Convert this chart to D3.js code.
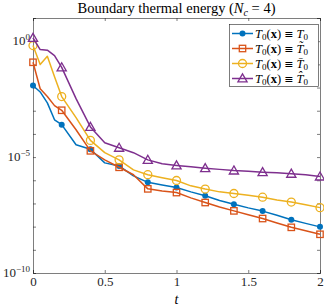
<!DOCTYPE html>
<html><head><meta charset="utf-8">
<script src="https://cdn.jsdelivr.net/npm/d3@7"></script>
<style>body{margin:0;background:#fff}svg{display:block}</style>
</head><body>
<svg id="c" width="324" height="307"></svg>
<script>
// time samples (markers every 0.2)
const tVals = [0,0.05,0.1,0.15,0.2,0.3,0.4,0.5,0.6,0.7,0.8,0.9,1.0,1.1,1.2,1.3,1.4,1.5,1.6,1.7,1.8,1.9,2.0];
// log10 of boundary thermal energy
const blueLog   = [-1.91,-2.19,-2.66,-3.39,-3.60,-4.47,-4.66,-5.25,-5.38,-5.81,-6.09,-6.20,-6.31,-6.50,-6.67,-6.87,-7.03,-7.19,-7.33,-7.51,-7.70,-7.86,-8.01];
const orangeLog = [-0.91,-2.05,-2.39,-2.78,-2.98,-3.82,-4.73,-5.12,-5.44,-5.76,-6.37,-6.46,-6.53,-6.76,-6.96,-7.15,-7.32,-7.49,-7.65,-7.84,-8.03,-8.18,-8.33];
const yellowLog = [-0.19,-1.01,-0.65,-1.53,-2.39,-3.30,-4.28,-4.81,-5.12,-5.55,-5.76,-5.89,-6.01,-6.24,-6.38,-6.50,-6.57,-6.65,-6.73,-6.85,-6.94,-7.06,-7.18];
const purpleLog = [0.14,-0.36,-0.39,-0.62,-1.13,-2.48,-3.70,-4.38,-4.60,-4.81,-5.12,-5.29,-5.36,-5.42,-5.48,-5.53,-5.58,-5.61,-5.65,-5.68,-5.72,-5.76,-5.84];
const xTicks = [0,0.5,1,1.5,2];
const xTickLabels = ["0","0.5","1","1.5","2"];
const yTicks = [1e-10,1e-9,1e-8,1e-7,1e-6,1e-5,1e-4,1e-3,1e-2,1e-1,1e0,1e1];
const yLabelExps = [0,-5,-10];
const colors = ["#0072BD","#D95319","#EDB120","#7E2F8E"];
const markers = ["dot","square","circle","triangle"];
const accents = ["","\u0303","\u0304","\u0302"];

const series = [blueLog, orangeLog, yellowLog, purpleLog];

const svg = d3.select("#c");
const L=33, R=320, T=18, B=273;
const x = d3.scaleLinear().domain([0,2]).range([L,R]);
const y = d3.scaleLog().domain([1e-10,1e1]).range([B,T]);
const font = "'Liberation Serif', 'DejaVu Serif', serif";
const axCol = "#262626";

// axes (bottom/left with labels, top/right ticks only)
const gx = svg.append("g").attr("transform",`translate(0,${B})`)
  .call(d3.axisBottom(x).tickValues(xTicks).tickSize(-3).tickPadding(4).tickFormat((d,i)=>xTickLabels[i]));
const gxt = svg.append("g").attr("transform",`translate(0,${T})`)
  .call(d3.axisTop(x).tickValues(xTicks).tickSize(-3).tickFormat(""));
const gy = svg.append("g").attr("transform",`translate(${L},0)`)
  .call(d3.axisLeft(y).tickValues(yTicks).tickSize(-3).tickFormat(""));
const gyr = svg.append("g").attr("transform",`translate(${R},0)`)
  .call(d3.axisRight(y).tickValues(yTicks).tickSize(-3).tickFormat(""));
[gx,gxt,gy,gyr].forEach(g=>{
  g.select(".domain").attr("stroke",axCol).attr("stroke-width",0.6);
  g.selectAll(".tick line").attr("stroke",axCol).attr("stroke-width",0.6);
});
gx.selectAll(".tick text").attr("font-family",font).attr("font-size",13).attr("fill","#262626");

// y labels 10^e
yLabelExps.forEach(e=>{
  const t = svg.append("text").attr("x",L-3).attr("y",y(Math.pow(10,e))+4)
    .attr("text-anchor","end").attr("font-family",font).attr("font-size",13).attr("fill","#262626");
  t.append("tspan").text("10");
  t.append("tspan").attr("dy",-5).attr("font-size",9).text(e===0?"0":"\u2212"+(-e));
});

// lines and markers
const line = d3.line().x(d=>x(d[0])).y(d=>y(d[1]));
function drawMarker(g, type, cx, cy, col){
  if(type==="dot") g.append("circle").attr("cx",cx).attr("cy",cy).attr("r",3).attr("fill",col);
  else if(type==="square") g.append("rect").attr("x",cx-3.2).attr("y",cy-3.2).attr("width",6.4).attr("height",6.4).attr("fill","none").attr("stroke",col).attr("stroke-width",1.3);
  else if(type==="circle") g.append("circle").attr("cx",cx).attr("cy",cy).attr("r",4).attr("fill","none").attr("stroke",col).attr("stroke-width",1.3);
  else { const s=4.6; g.append("path").attr("d",`M${cx},${cy-s}L${cx+s},${cy+s*0.75}L${cx-s},${cy+s*0.75}Z`).attr("fill","none").attr("stroke",col).attr("stroke-width",1.3); }
}
series.forEach((s,k)=>{
  const pts = tVals.map((t,i)=>[t, Math.pow(10,s[i])]);
  const g = svg.append("g");
  g.append("path").datum(pts).attr("d",line).attr("fill","none").attr("stroke",colors[k]).attr("stroke-width",1.5).attr("stroke-linejoin","round");
  pts.forEach(p=>{
    if(Math.abs(p[0]*5 - Math.round(p[0]*5))<1e-6) drawMarker(g, markers[k], x(p[0]), y(p[1]), colors[k]);
  });
});

// legend
const lg = svg.append("g");
lg.append("rect").attr("x",229.5).attr("y",24.5).attr("width",89).attr("height",62).attr("fill","#fff").attr("stroke","#262626").attr("stroke-width",0.6);
colors.forEach((c,k)=>{
  const yy = 33.5 + k*15;
  lg.append("line").attr("x1",232).attr("x2",253).attr("y1",yy).attr("y2",yy).attr("stroke",c).attr("stroke-width",1.5);
  drawMarker(lg, markers[k], 242.5, yy, c);
  const t = lg.append("text").attr("x",255).attr("y",yy+4).attr("font-family",font).attr("font-size",12.5).attr("fill","#000");
  t.append("tspan").attr("font-style","italic").text("T");
  t.append("tspan").attr("dy",2.5).attr("font-size",9).text("0");
  t.append("tspan").attr("dy",-2.5).text("(");
  t.append("tspan").attr("font-weight","bold").text("x");
  t.append("tspan").text(") ");
  t.append("tspan").attr("font-family","'DejaVu Sans', sans-serif").attr("font-size",11).text("\u2261");
  t.append("tspan").text(" ");
  t.append("tspan").attr("font-style","italic").text("T"+accents[k]);
  t.append("tspan").attr("dy",2.5).attr("font-size",9).text("0");
});

// title
const tt = svg.append("text").attr("x",(L+R)/2).attr("y",13).attr("text-anchor","middle").attr("font-family",font).attr("font-size",14.5).attr("fill","#000");
tt.append("tspan").text("Boundary thermal energy (");
tt.append("tspan").attr("font-style","italic").text("N");
tt.append("tspan").attr("font-style","italic").attr("font-size",10).attr("dy",2.5).text("c");
tt.append("tspan").attr("dy",-2.5).text(" = 4)");

// x label
svg.append("text").attr("x",(L+R)/2).attr("y",304).attr("text-anchor","middle").attr("font-family",font).attr("font-style","italic").attr("font-size",14).text("t");
</script>
</body></html>
